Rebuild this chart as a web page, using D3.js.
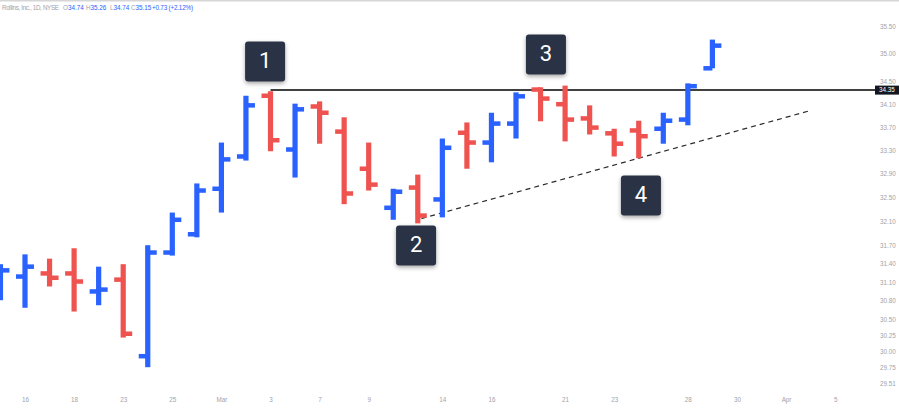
<!DOCTYPE html>
<html>
<head>
<meta charset="utf-8">
<script src="https://cdn.jsdelivr.net/npm/d3@7/dist/d3.min.js"></script>
<style>
  html, body { margin: 0; padding: 0; background: #ffffff; }
  svg { display: block; }
  text { font-family: "Liberation Sans", Arial, sans-serif; }
</style>
</head>
<body>
<svg id="chart" width="899" height="408"></svg>
<script>
// ---------- DATA ----------
const tradingDays = ["2022-02-15","2022-02-16","2022-02-17","2022-02-18","2022-02-22","2022-02-23","2022-02-24","2022-02-25","2022-02-28",
  "2022-03-01","2022-03-02","2022-03-03","2022-03-04","2022-03-07","2022-03-08","2022-03-09","2022-03-10","2022-03-11",
  "2022-03-14","2022-03-15","2022-03-16","2022-03-17","2022-03-18","2022-03-21","2022-03-22","2022-03-23","2022-03-24","2022-03-25",
  "2022-03-28","2022-03-29","2022-03-30","2022-03-31","2022-04-01","2022-04-04","2022-04-05"];
const barDates = tradingDays.slice(0, 30);
const openValues  = [30.95,31.19,31.24,31.24,30.95,31.14,29.93,31.58,31.88,32.64,33.19,34.25,33.31,34.06,33.62,32.98,32.32,32.66,32.46,33.60,33.43,33.76,34.36,34.10,33.85,33.59,33.64,33.67,33.83,34.74];
const highValues  = [31.39,31.55,31.48,31.65,31.35,31.39,31.70,32.24,32.73,33.43,34.25,34.33,34.11,34.15,33.87,33.43,32.64,32.88,33.50,33.78,33.95,34.31,34.40,34.43,34.08,33.67,33.81,33.95,34.47,35.26];
const lowValues   = [30.81,30.69,31.03,30.63,30.73,30.22,29.76,31.53,31.83,32.24,33.12,33.28,32.83,33.41,32.38,32.61,32.12,32.06,32.16,32.98,33.09,33.50,33.80,33.45,33.57,33.19,33.16,33.41,33.73,34.74];
const closeValues = [31.29,31.35,31.17,31.11,30.98,30.28,31.58,32.12,32.61,33.14,34.08,33.47,34.01,33.95,32.56,32.71,32.59,32.19,33.34,33.43,33.76,34.24,34.20,33.83,33.69,33.41,33.54,33.81,34.42,35.15];

const priceTicks = [35.50,35.00,34.50,34.10,33.70,33.30,32.90,32.50,32.10,31.70,31.40,31.10,30.80,30.50,30.25,30.00,29.75,29.51];
const timeTickDates  = ["2022-02-16","2022-02-18","2022-02-23","2022-02-25","2022-03-01","2022-03-03","2022-03-07","2022-03-09","2022-03-14","2022-03-16","2022-03-21","2022-03-23","2022-03-28","2022-03-30","2022-04-01","2022-04-05"];
const timeTickLabels = ["16","18","23","25","Mar","3","7","9","14","16","21","23","28","30","Apr","5"];

const resistanceLevel = 34.35;
const resistanceStart = "2022-03-03";
const trendStart = { day: 16.15, price: 32.14 };   // trading-day index offset from Feb 16
const trendEnd   = { day: 32.0,  price: 33.99 };
const annotationLabels = ["1","2","3","4"];
const annotationDays   = [9.78, 15.93, 21.22, 25.09];
const annotationPrices = [34.862, 31.695, 34.989, 32.526];

const headerTitle = "Rollins, Inc., 1D, NYSE";
const headerKeys = ["O","H","L","C"];
const headerValues = ["34.74","35.26","34.74","35.15"];
const headerChange = "+0.73 (+2.12%)";

// ---------- SCALES ----------
const W = 899, H = 408;
const svg = d3.select("#chart");
const x = d3.scalePoint().domain(tradingDays).range([0.45, 835.15]);
const step = x.step();
const xIdx = d => x(tradingDays[1]) + d * step; // index relative to Feb 16
const y = d3.scaleLog().domain([29.51, 35.5]).range([383.5, 26.5]);

const UP = "#2962ff", DOWN = "#ef5350";

// top border
svg.append("rect").attr("x", 0).attr("y", 0).attr("width", W).attr("height", 1.5).attr("fill", "#d6d6d6");

// defs: shadow
const defs = svg.append("defs");
const f = defs.append("filter").attr("id", "shadow").attr("x", "-30%").attr("y", "-30%").attr("width", "160%").attr("height", "170%");
f.append("feDropShadow").attr("dx", 0).attr("dy", 2).attr("stdDeviation", 2).attr("flood-color", "#000").attr("flood-opacity", 0.35);

// ---------- RESISTANCE LINE ----------
svg.append("line")
  .attr("x1", x(resistanceStart)).attr("x2", 875)
  .attr("y1", y(resistanceLevel)).attr("y2", y(resistanceLevel))
  .attr("stroke", "#000").attr("stroke-width", 1.5);

// ---------- TREND LINE ----------
svg.append("line")
  .attr("x1", xIdx(trendStart.day)).attr("y1", y(trendStart.price))
  .attr("x2", xIdx(trendEnd.day)).attr("y2", y(trendEnd.price))
  .attr("stroke", "#2a2a2a").attr("stroke-width", 1.2).attr("stroke-dasharray", "5,4");

// ---------- OHLC BARS ----------
const bars = barDates.map((d, i) => ({ date: d, o: openValues[i], h: highValues[i], l: lowValues[i], c: closeValues[i] }));
const bw = 5.2, tick = 9, th = 4.5;
const g = svg.append("g");
bars.forEach(b => {
  const cx = x(b.date), col = b.c >= b.o ? UP : DOWN;
  g.append("rect").attr("x", cx - bw / 2).attr("y", y(b.h)).attr("width", bw).attr("height", Math.max(1, y(b.l) - y(b.h))).attr("fill", col);
  g.append("rect").attr("x", cx - tick).attr("y", y(b.o) - th / 2).attr("width", tick).attr("height", th).attr("fill", col);
  g.append("rect").attr("x", cx).attr("y", y(b.c) - th / 2).attr("width", tick).attr("height", th).attr("fill", col);
});

// ---------- ANNOTATION BOXES ----------
annotationLabels.forEach((lab, i) => {
  const cx = xIdx(annotationDays[i]), cy = y(annotationPrices[i]);
  const gg = svg.append("g");
  gg.append("rect").attr("x", cx - 20).attr("y", cy - 20).attr("width", 40).attr("height", 40)
    .attr("rx", 3).attr("fill", "#2a3244").attr("filter", "url(#shadow)");
  gg.append("text").attr("x", cx).attr("y", cy + 1).attr("text-anchor", "middle").attr("dominant-baseline", "middle")
    .attr("fill", "#fff").attr("font-size", 22).style("font-family", "Roboto, 'Liberation Sans', sans-serif").text(lab);
});

// ---------- PRICE AXIS ----------
const yAxis = d3.axisRight(y).tickValues(priceTicks).tickFormat(d3.format(".2f")).tickSize(0).tickPadding(0);
const ya = svg.append("g").attr("transform", "translate(880,0)").call(yAxis);
ya.select(".domain").remove();
ya.selectAll("text").attr("fill", "#a0a3ab").attr("font-size", 6.3).attr("text-anchor", "start").attr("dy", "0.32em");

// price label for resistance
svg.append("rect").attr("x", 875).attr("y", y(resistanceLevel) - 4.5).attr("width", 24).attr("height", 9).attr("fill", "#131722");
svg.append("text").attr("x", 887).attr("y", y(resistanceLevel)).attr("text-anchor", "middle").attr("dy", "0.35em")
  .attr("fill", "#fff").attr("font-size", 6.3).text(resistanceLevel.toFixed(2));

// ---------- TIME AXIS ----------
const labelMap = new Map(timeTickDates.map((d, i) => [d, timeTickLabels[i]]));
const xAxis = d3.axisBottom(x).tickValues(timeTickDates).tickFormat(d => labelMap.get(d)).tickSize(0).tickPadding(0);
const xa = svg.append("g").attr("transform", "translate(0,400)").call(xAxis);
xa.select(".domain").remove();
xa.selectAll("text").attr("fill", "#a0a3ab").attr("font-size", 6.3).attr("dy", "0.35em");

// ---------- HEADER ----------
const hg = svg.append("g").attr("font-size", 6.3);
hg.append("text").attr("x", 2).attr("y", 10).attr("fill", "#a0a3ab")
  .attr("textLength", 57).attr("lengthAdjust", "spacing").text(headerTitle);
const fieldX = [63, 86, 110, 131];
headerKeys.forEach((k, i) => {
  const t = hg.append("text").attr("x", fieldX[i]).attr("y", 10);
  t.append("tspan").attr("fill", "#a0a3ab").text(k);
  t.append("tspan").attr("fill", UP).text(headerValues[i]);
});
hg.append("text").attr("x", 152).attr("y", 10).attr("fill", UP)
  .attr("textLength", 41).attr("lengthAdjust", "spacing").text(headerChange);
</script>
</body>
</html>
